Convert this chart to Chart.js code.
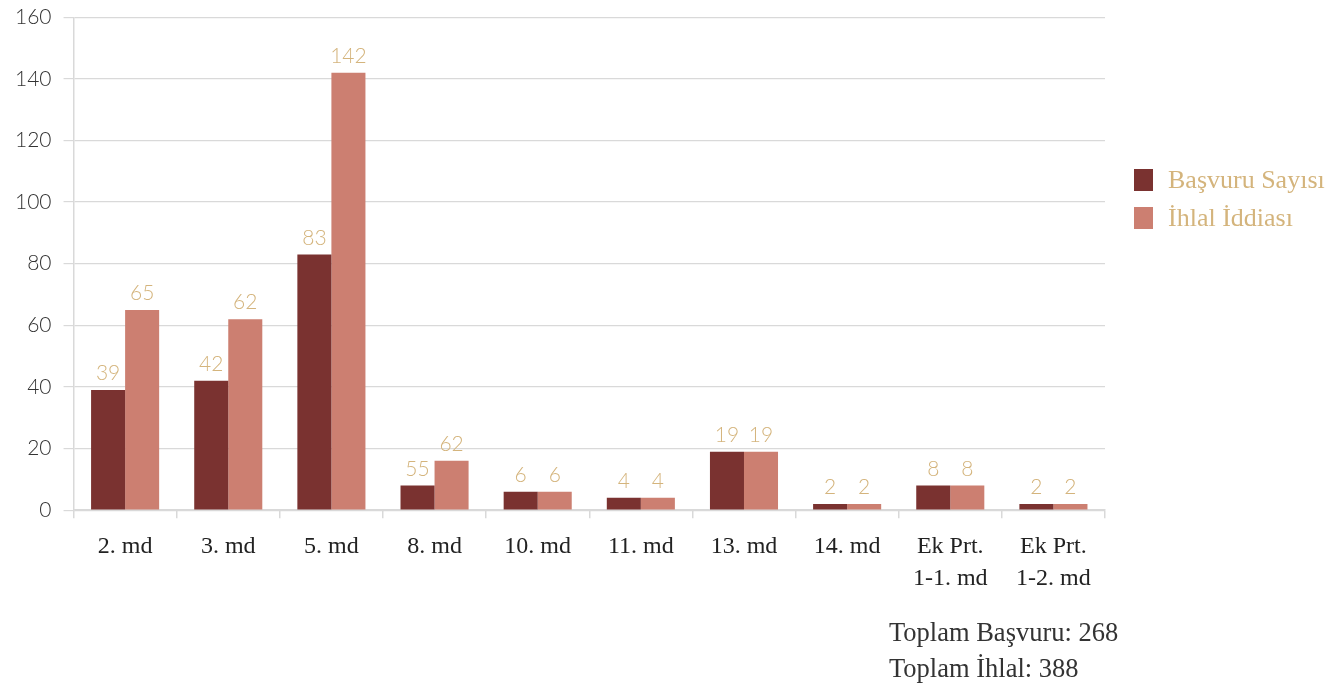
<!DOCTYPE html>
<html><head><meta charset="utf-8">
<script src="https://cdn.jsdelivr.net/npm/chart.js@4"></script>
<style>
html,body{margin:0;padding:0;background:#fff;}
#wrap{position:relative;width:1337px;height:685px;}
#legend{position:absolute;left:1134px;top:161px;font-family:"Liberation Serif",serif;font-size:26px;color:#d4b47c;}
#legend div{display:flex;align-items:center;height:38px;}
#legend span.box{display:inline-block;width:19px;height:22px;margin-right:15px;}
#totals{position:absolute;left:889px;top:614px;font-family:"Liberation Serif",serif;font-size:26.5px;color:#333;line-height:36px;}
</style></head>
<body><div id="wrap"><canvas id="c" width="1337" height="685"></canvas>
<div id="legend"></div>
<div id="totals"></div></div>
<script>
const categories = ["2. md","3. md","5. md","8. md","10. md","11. md","13. md","14. md",["Ek Prt.","1-1. md"],["Ek Prt.","1-2. md"]];
const seriesNames = ["Başvuru Sayısı","İhlal İddiası"];
const basvuru = [39,42,83,8,6,4,19,2,8,2];
const ihlal = [65,62,142,16,6,4,19,2,8,2];
const basvuruLabels = ["39","42","83","55","6","4","19","2","8","2"];
const ihlalLabels = ["65","62","142","62","6","4","19","2","8","2"];
const yTicks = [0,20,40,60,80,100,120,140,160];
const totals = ["Toplam Başvuru: 268","Toplam İhlal: 388"];
const colors = ["#7a3230","#cc7f71"];

const labelPlugin = {
  id:'barLabels',
  afterDatasetsDraw(chart){
    const ctx = chart.ctx;
    const lbls = [basvuruLabels, ihlalLabels];
    ctx.save();
    ctx.font = '300 21px Lato, sans-serif';
    ctx.fillStyle = '#d4b47c';
    ctx.textAlign = 'center';
    ctx.textBaseline = 'bottom';
    chart.data.datasets.forEach((ds,i)=>{
      chart.getDatasetMeta(i).data.forEach((bar,j)=>{
        ctx.fillText(lbls[i][j], bar.x, bar.y - 6);
      });
    });
    ctx.restore();
  }
};

new Chart(document.getElementById('c'),{
  type:'bar',
  data:{labels:categories,datasets:[
    {label:seriesNames[0],data:basvuru,backgroundColor:colors[0],borderWidth:0},
    {label:seriesNames[1],data:ihlal,backgroundColor:colors[1],borderWidth:0}
  ]},
  options:{
    responsive:false,animation:false,
    layout:{padding:{left:3,right:232,top:16,bottom:77}},
    plugins:{legend:{display:false},tooltip:{enabled:false}},
    datasets:{bar:{categoryPercentage:0.66,barPercentage:1.0}},
    scales:{
      x:{grid:{display:true,drawOnChartArea:false,offset:true,color:'#d9d9d9',lineWidth:1.5,tickLength:8},
         border:{color:'#d9d9d9',width:1.5},
         ticks:{color:'#222',font:{family:'Liberation Serif',size:24,lineHeight:1.33},padding:13}},
      y:{min:0,max:160,afterBuildTicks:(ax)=>{ax.ticks=yTicks.map(v=>({value:v}));},
         grid:{color:'#d9d9d9',lineWidth:1.2,tickLength:10},
         border:{color:'#d9d9d9',width:1.5},
         ticks:{color:'#333',font:{family:'Lato',size:21,weight:'300',lineHeight:0.5},padding:12}}
    }
  },
  plugins:[labelPlugin]
});

const lg=document.getElementById('legend');
seriesNames.forEach((n,i)=>{const d=document.createElement('div');d.innerHTML='<span class="box" style="background:'+colors[i]+'"></span>'+n;lg.appendChild(d);});
const tt=document.getElementById('totals');
totals.forEach(t=>{const d=document.createElement('div');d.textContent=t;tt.appendChild(d);});
</script></body></html>
